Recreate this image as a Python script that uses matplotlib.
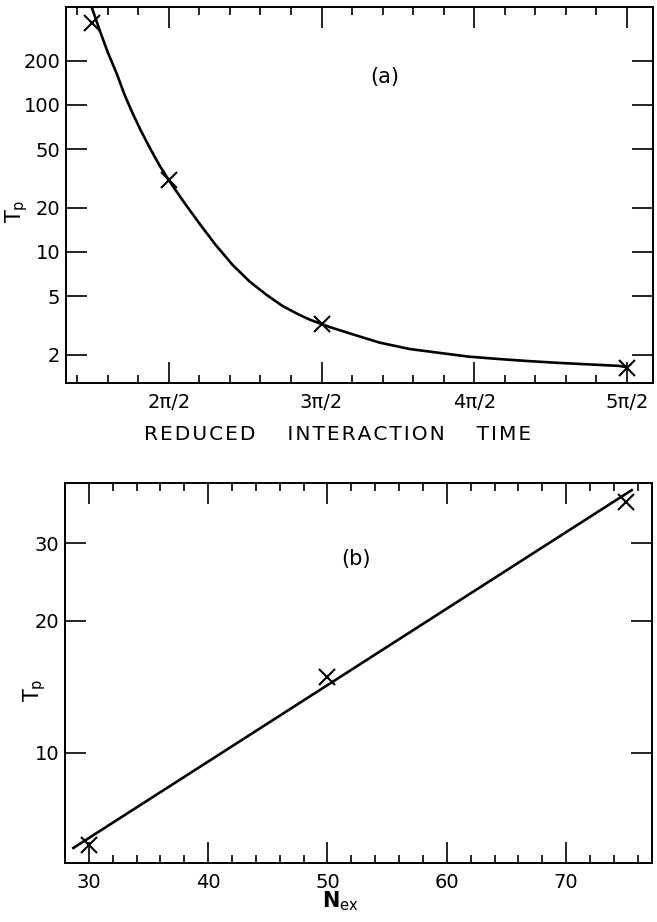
import numpy as np
import matplotlib
matplotlib.use('Agg')
import matplotlib.pyplot as plt
from matplotlib.ticker import FixedLocator, MultipleLocator, NullLocator, FixedFormatter

# panel (a): T_p vs reduced interaction time (x in units of pi/2)
pts_a_u = [1.5, 2.0, 3.0, 5.0]
pts_a_t = [360, 31.0, 3.24, 1.62]
curve_a_u = [1.49, 1.549, 1.601, 1.660, 1.712, 1.765, 1.817, 1.876, 1.941, 2.0,
             2.026, 2.098, 2.203, 2.307, 2.418, 2.529, 2.641, 2.745, 2.856, 2.928,
             3.0, 3.052, 3.216, 3.379, 3.575, 3.771, 3.967, 4.163, 4.359, 4.556,
             4.948, 4.993]
curve_a_t = [480, 318.7, 227.5, 162.5, 116.2, 86.9, 67.0, 51.0, 38.5, 30.9,
             28.1, 21.9, 15.5, 11.16, 8.16, 6.30, 5.10, 4.29, 3.73, 3.45,
             3.24, 3.09, 2.73, 2.42, 2.19, 2.06, 1.94, 1.87, 1.81, 1.76,
             1.68, 1.65]
ticks_a_x = [2, 3, 4, 5]
labels_a_x = ['2\u03c0/2', '3\u03c0/2', '4\u03c0/2', '5\u03c0/2']
ticks_a_y = [2, 5, 10, 20, 50, 100, 200]

# panel (b): T_p vs N_ex
pts_b_n = [30, 50, 75]
pts_b_t = [6.18, 14.9, 37.2]
fit_b_n = [28.7, 75.5]
fit_b_t = [6.08, 39.6]
ticks_b_x = [30, 40, 50, 60, 70]
ticks_b_y = [10, 20, 30]

plt.rcParams['font.family'] = 'DejaVu Sans'
plt.rcParams['mathtext.fontset'] = 'dejavusans'

fig = plt.figure(figsize=(6.57, 9.22), dpi=100)
ax1 = fig.add_axes([66/657, 1-383/922, 587/657, 376/922])
ax2 = fig.add_axes([65/657, 1-863/922, 587/657, 380/922])

def style(ax):
    for s in ax.spines.values():
        s.set_linewidth(1.4)
    ax.tick_params(which='both', direction='in', top=True, right=True, width=1.2,
                   labelsize=14, colors='black')
    ax.tick_params(which='major', length=15)
    ax.tick_params(which='minor', length=6)
    ax.tick_params(axis='x', pad=7)
    ax.tick_params(axis='y', pad=4)

def spaced(s):
    # slightly opened lettering, wide gaps between words
    return '     '.join('\u200a'.join(w) for w in s.split())

# (a)
ax = ax1
ax.set_yscale('log')
ax.plot(curve_a_u, curve_a_t, color='black', lw=1.9)
ax.plot(pts_a_u, pts_a_t, 'x', color='black', ms=11, mew=1.5)
ax.set_xlim(1.327, 5.17)
ax.set_ylim(1.285, 464)
ax.xaxis.set_major_locator(FixedLocator(ticks_a_x))
ax.xaxis.set_major_formatter(FixedFormatter(labels_a_x))
ax.xaxis.set_minor_locator(MultipleLocator(0.2))
ax.yaxis.set_major_locator(FixedLocator(ticks_a_y))
ax.yaxis.set_major_formatter(FixedFormatter([str(v) for v in ticks_a_y]))
ax.yaxis.set_minor_locator(NullLocator())
style(ax)
ax.set_xlabel(spaced('REDUCED INTERACTION TIME'), fontsize=14.5)
ax.xaxis.set_label_coords(0.463, -0.113)
ax.set_ylabel(r'T$_\mathrm{p}$', fontsize=15)
ax.yaxis.set_label_coords(-0.061, 0.457)
ax.text(0.543, 0.815, '(a)', transform=ax.transAxes, fontsize=15, ha='center', va='center')

# (b)
ax = ax2
ax.set_yscale('log')
ax.plot(fit_b_n, fit_b_t, color='black', lw=1.9)
ax.plot(pts_b_n, pts_b_t, 'x', color='black', ms=11, mew=1.5)
ax.set_xlim(28.0, 77.2)
ax.set_ylim(5.62, 41.1)
ax.xaxis.set_major_locator(FixedLocator(ticks_b_x))
ax.xaxis.set_minor_locator(MultipleLocator(2))
ax.yaxis.set_major_locator(FixedLocator(ticks_b_y))
ax.yaxis.set_major_formatter(FixedFormatter([str(v) for v in ticks_b_y]))
ax.yaxis.set_minor_locator(NullLocator())
style(ax)
ax.set_xlabel(r'N$_\mathrm{ex}$', fontsize=15, fontweight='bold')
ax.xaxis.set_label_coords(0.47, -0.07)
ax.set_ylabel(r'T$_\mathrm{p}$', fontsize=15)
ax.yaxis.set_label_coords(-0.029, 0.455)
ax.text(0.495, 0.8, '(b)', transform=ax.transAxes, fontsize=15, ha='center', va='center')

fig.savefig('out.png', dpi=100)
